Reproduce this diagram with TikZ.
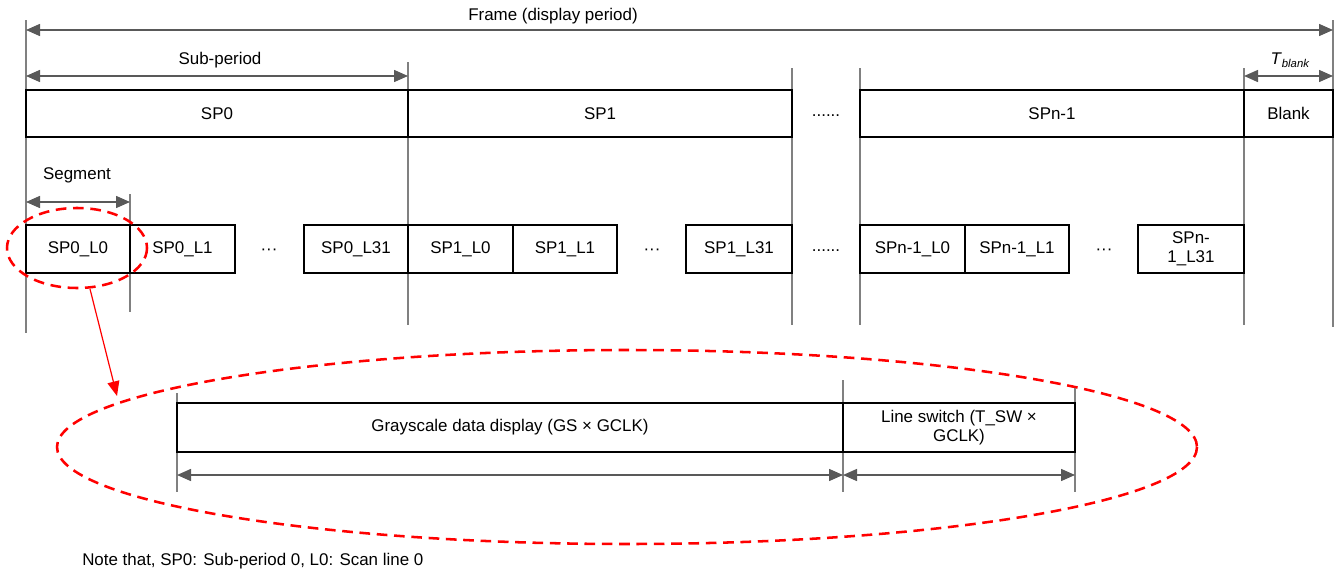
\documentclass[tikz,border=0pt]{standalone}
\usepackage{fontspec}
\setmainfont{Liberation Sans}
\usetikzlibrary{arrows.meta}
\definecolor{dimgray}{HTML}{595959}
\definecolor{vline}{HTML}{808080}
\newcommand{\bx}[6]{\node[box, minimum width={(#4-#2)*0.75pt}, minimum height={(#5-#3)*0.75pt}] (#1) at ({(#2+#4)/2},{(#3+#5)/2}) {#6};}
\begin{document}
\begin{tikzpicture}[x=0.75pt,y=-0.75pt,
  font=\fontsize{12.7pt}{14pt}\selectfont,
  box/.style={draw=black, line width=1.5pt, inner sep=0pt, align=center, fill=white},
  guide/.style={draw=vline, line width=0.8pt},
  dimline/.style={draw=dimgray, line width=1.1pt, {Triangle[length=10.5pt,width=9pt]}-{Triangle[length=10.5pt,width=9pt]}},
  redell/.style={draw=red, line width=1.9pt, dash pattern=on 8pt off 5pt},
  redarrow/.style={draw=red, line width=0.9pt, -{Triangle[length=11pt,width=9pt]}},
  lbl/.style={inner sep=0pt}]
\useasboundingbox (0,0) rectangle (1336,571);

% guide lines
\coordinate (g1t) at (26,20);   \coordinate (g1b) at (26,333);
\coordinate (g2t) at (408,62);  \coordinate (g2b) at (408,325);
\coordinate (g3t) at (792,68);  \coordinate (g3b) at (792,325);
\coordinate (g4t) at (860,68);  \coordinate (g4b) at (860,325);
\coordinate (g5t) at (1244,68); \coordinate (g5b) at (1244,325);
\coordinate (g6t) at (1333,20); \coordinate (g6b) at (1333,327);
\coordinate (g7t) at (130,194); \coordinate (g7b) at (130,312);
\foreach \i in {1,...,7} {\draw[guide] (g\i t) -- (g\i b);}

% dimension arrows
\coordinate (fL) at (26,30);  \coordinate (fR) at (1333,30);
\draw[dimline] (fL) -- (fR);
\node[lbl] (frame) at (553,16) {Frame (display period)};
\coordinate (sL) at (26,76);  \coordinate (sR) at (408,76);
\draw[dimline] (sL) -- (sR);
\node[lbl] (subp) at (220,60) {Sub-period};
\coordinate (tL) at (1244,76);  \coordinate (tR) at (1333,76);
\draw[dimline] (tL) -- (tR);
\node[lbl] (tblank) at (1290,60) {\textit{T}\raisebox{-0.35ex}{\fontsize{8.5pt}{9pt}\selectfont\textit{blank}}};
\coordinate (segL) at (26,202);  \coordinate (segR) at (130,202);
\draw[dimline] (segL) -- (segR);
\node[lbl] (seg) at (77,175) {Segment};

% top row
\bx{sp0}{26}{90}{408}{137}{SP0}
\bx{sp1}{408}{90}{792}{137}{SP1}
\bx{spn}{860}{90}{1244}{137}{SPn-1}
\bx{blank}{1244}{90}{1333}{137}{Blank}
\node[lbl] (dtop) at (826,116) {......};

% second row
\bx{a0}{26}{225}{130}{273}{SP0\_L0}
\bx{a1}{130}{225}{235}{273}{SP0\_L1}
\node[lbl] (da) at (269,252) {···};
\bx{a31}{304}{225}{408}{273}{SP0\_L31}
\bx{b0}{408}{225}{513}{273}{SP1\_L0}
\bx{b1}{513}{225}{617}{273}{SP1\_L1}
\node[lbl] (db) at (652,252) {···};
\bx{b31}{686}{225}{792}{273}{SP1\_L31}
\node[lbl] (dmid) at (826,251) {......};
\bx{c0}{860}{225}{965}{273}{SPn-1\_L0}
\bx{c1}{965}{225}{1069}{273}{SPn-1\_L1}
\node[lbl] (dc) at (1104,252) {···};
\bx{c31}{1138}{225}{1244}{273}{SPn-\\1\_L31}

% small ellipse and arrow
\draw[redell] (77,248) ellipse [x radius=70, y radius=40];
\coordinate (arrS) at (90,289);
\coordinate (arrE) at (117,396);
\draw[redarrow] (arrS) -- (arrE);

% big ellipse
\draw[redell] (627,447) ellipse [x radius=570, y radius=97];

% bottom detail
\coordinate (h1t) at (177,393);  \coordinate (h1b) at (177,492);
\coordinate (h2t) at (843,380);  \coordinate (h2b) at (843,492);
\coordinate (h3t) at (1075,388); \coordinate (h3b) at (1075,492);
\foreach \i in {1,2,3} {\draw[guide] (h\i t) -- (h\i b);}
\bx{gs}{177}{403}{843}{452}{Grayscale data display (GS × GCLK)}
\bx{ls}{843}{403}{1075}{452}{Line switch (T\_SW ×\\GCLK)}
\coordinate (d1L) at (177,475); \coordinate (d1R) at (843,475);
\coordinate (d2L) at (843,475); \coordinate (d2R) at (1075,475);
\draw[dimline] (d1L) -- (d1R);
\draw[dimline] (d2L) -- (d2R);

\node[lbl, anchor=west] (note) at (82,561) {Note that, SP0: Sub-period 0, L0: Scan line 0};
\end{tikzpicture}
\end{document}
